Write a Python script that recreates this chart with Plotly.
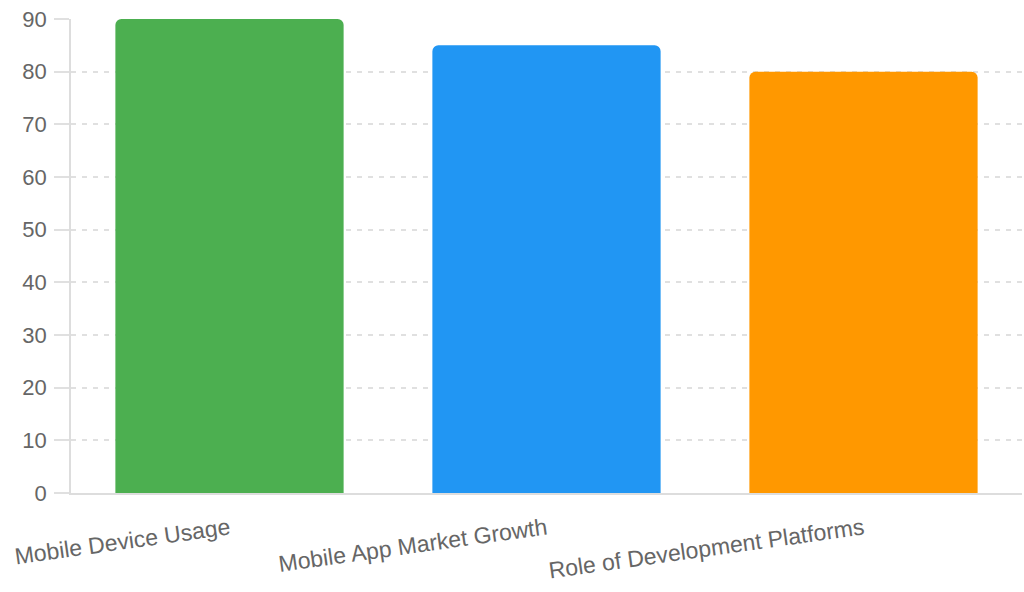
import plotly.graph_objects as go

# chart data
categories = ["Mobile Device Usage", "Mobile App Market Growth", "Role of Development Platforms"]
values = [90, 85, 80]
bar_colors = ["#4CAF50", "#2196F3", "#FF9800"]
y_ticks = [0, 10, 20, 30, 40, 50, 60, 70, 80, 90]

fig = go.Figure()
fig.add_trace(go.Bar(
    x=categories,
    y=values,
    marker=dict(color=bar_colors, cornerradius=6, line=dict(width=0)),
    width=0.72,
    hoverinfo="x+y",
))

fig.update_layout(
    width=1024,
    height=592,
    margin=dict(l=71, r=2, t=19, b=99),
    paper_bgcolor="white",
    plot_bgcolor="white",
    showlegend=False,
    font=dict(family="Liberation Sans, Arial, sans-serif", color="#666666"),
)

fig.update_yaxes(
    range=[0, 90],
    tickvals=y_ticks,
    tickfont=dict(size=22, color="#666666"),
    showgrid=True,
    gridcolor="#e0e0e0",
    griddash="5px,6px",
    gridwidth=1.5,
    showline=True,
    linecolor="#dddddd",
    linewidth=1.5,
    ticks="outside",
    ticklen=15,
    tickcolor="#e0e0e0",
    tickwidth=1.5,
    ticklabelstandoff=3,
    zeroline=False,
)

fig.update_xaxes(
    tickangle=-8,
    tickfont=dict(size=23, color="#666666"),
    showgrid=False,
    showline=True,
    linecolor="#dddddd",
    linewidth=1.5,
    ticks="",
    ticklabelstandoff=12,
)

# drop the default page margin so the figure sits at the window corner
fig.write_html(
    "out.html",
    config={"displayModeBar": False},
    post_script="document.body.style.margin='0';",
)
